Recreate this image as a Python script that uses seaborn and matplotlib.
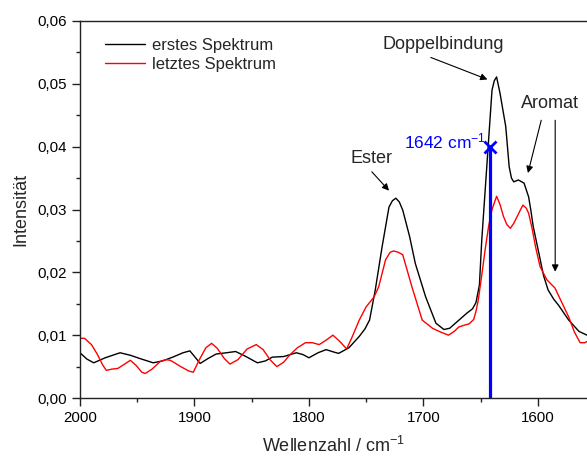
import numpy as np
import pandas as pd
import matplotlib
matplotlib.use("Agg")
import matplotlib.pyplot as plt
from matplotlib.ticker import FuncFormatter, MultipleLocator
from matplotlib.lines import Line2D
import seaborn as sns

# ---- data -------------------------------------------------------------
wn_first = [2000, 1994, 1988, 1978, 1965, 1956, 1948, 1936, 1928, 1919, 1910, 1904,
            1899, 1895, 1888, 1881, 1872, 1864, 1855, 1845, 1838, 1832, 1822, 1811,
            1805, 1800, 1792, 1785, 1778, 1774, 1765, 1756, 1751, 1747, 1742, 1736,
            1730, 1727, 1724, 1721, 1718, 1712, 1707, 1698, 1689, 1682, 1677, 1672,
            1667, 1662, 1657, 1654, 1651, 1649, 1646, 1643, 1640, 1638, 1636, 1633,
            1628, 1625, 1623, 1621, 1617, 1612, 1608, 1606, 1604, 1599, 1595,
            1591, 1586, 1582, 1573, 1564, 1557]
int_first = [0.0072, 0.0062, 0.0056, 0.0064, 0.0072, 0.0068, 0.0063, 0.0056, 0.0059,
             0.0065, 0.0072, 0.0075, 0.0064, 0.0055, 0.0063, 0.0070, 0.0072, 0.0074,
             0.0066, 0.0056, 0.0059, 0.0065, 0.0066, 0.0072, 0.0069, 0.0064, 0.0072,
             0.0077, 0.0073, 0.0071, 0.0080, 0.0098, 0.0110, 0.0124, 0.0172, 0.0241,
             0.0304, 0.0314, 0.0318, 0.0312, 0.0299, 0.0257, 0.0214, 0.0161, 0.0119,
             0.0109, 0.0111, 0.0119, 0.0127, 0.0135, 0.0142, 0.0152, 0.0180, 0.0250,
             0.0330, 0.0410, 0.0490, 0.0505, 0.0511, 0.0485, 0.0432, 0.0368, 0.0350,
             0.0344, 0.0347, 0.0342, 0.0320, 0.0298, 0.0273, 0.0230, 0.0195,
             0.0172, 0.0157, 0.0148, 0.0124, 0.0106, 0.0100]

wn_last = [2000, 1996, 1990, 1985, 1980, 1977, 1972, 1967, 1961, 1956, 1951, 1946,
           1943, 1937, 1930, 1925, 1921, 1912, 1905, 1901, 1896, 1890, 1885, 1880,
           1874, 1869, 1862, 1854, 1846, 1840, 1834, 1828, 1822, 1817, 1810, 1803,
           1797, 1791, 1785, 1779, 1773, 1767, 1762, 1756, 1750, 1743, 1739, 1733,
           1729, 1726, 1722, 1718, 1710, 1701, 1692, 1685, 1678, 1673, 1669, 1664,
           1660, 1656, 1654, 1652, 1649, 1646, 1643, 1640, 1636, 1633, 1630,
           1627, 1624, 1621, 1618, 1615, 1613, 1610, 1608, 1605, 1602, 1598, 1592, 1585,
           1579, 1573, 1568, 1563, 1559, 1557]
int_last = [0.0095, 0.0095, 0.0085, 0.0070, 0.0052, 0.0044, 0.0046, 0.0047, 0.0054,
            0.0060, 0.0052, 0.0041, 0.0039, 0.0046, 0.0058, 0.0061, 0.0060, 0.0050,
            0.0043, 0.0041, 0.0060, 0.0080, 0.0087, 0.0079, 0.0063, 0.0054, 0.0061,
            0.0078, 0.0085, 0.0077, 0.0061, 0.0050, 0.0057, 0.0068, 0.0080, 0.0088,
            0.0088, 0.0085, 0.0092, 0.0100, 0.0090, 0.0078, 0.0098, 0.0124, 0.0145,
            0.0161, 0.0177, 0.0220, 0.0232, 0.0234, 0.0232, 0.0228, 0.0177, 0.0124,
            0.0111, 0.0105, 0.0100, 0.0106, 0.0113, 0.0116, 0.0118, 0.0125, 0.0138,
            0.0156, 0.0195, 0.0236, 0.0273, 0.0300, 0.0321, 0.0308, 0.0289,
            0.0276, 0.0270, 0.0278, 0.0289, 0.0300, 0.0307, 0.0302, 0.0294, 0.0270,
            0.0241, 0.0209, 0.0188, 0.0175, 0.0152, 0.0129, 0.0105, 0.0088, 0.0088,
            0.0090]

series_names = ["erstes Spektrum", "letztes Spektrum"]
series_colors = ["#000000", "#ff0000"]

marker_wn = 1642
marker_int = 0.040
marker_label = "1642 cm$^{-1}$"

# ---- style ------------------------------------------------------------
sns.set_style("ticks")
plt.rcParams["font.family"] = ["Liberation Sans", "DejaVu Sans"]
plt.rcParams["mathtext.fontset"] = "custom"
plt.rcParams["mathtext.rm"] = "Liberation Sans"
plt.rcParams["mathtext.it"] = "Liberation Sans"
plt.rcParams["mathtext.default"] = "regular"

df = pd.concat([
    pd.DataFrame({"wn": wn_first, "I": int_first, "s": series_names[0]}),
    pd.DataFrame({"wn": wn_last, "I": int_last, "s": series_names[1]}),
])

fig = plt.figure(figsize=(5.87, 4.59), dpi=100)
ax = fig.add_axes([80 / 587, 1 - 398 / 459, 1 - 80 / 587, (398 - 21) / 459])

sns.lineplot(data=df, x="wn", y="I", hue="s", palette=series_colors,
             hue_order=series_names, linewidth=1.0, ax=ax, legend=False,
             estimator=None, sort=True)

ax.set_xlim(2000, 1557)
ax.set_ylim(0, 0.06)

# blue marker line
ax.vlines(marker_wn, 0, marker_int, color="#0000ff", linewidth=2.3, zorder=4)
ax.plot([marker_wn], [marker_int], marker="x", color="#0000ff", markersize=8,
        markeredgewidth=2, zorder=5)
ax.text(marker_wn + 3, marker_int + 0.0008, marker_label, color="#0000ff",
        fontsize=12.5, ha="right", va="center")

# legend
handles = [Line2D([], [], color=c, linewidth=1.0) for c in series_colors]
ax.legend(handles, series_names, loc="upper left", frameon=False, fontsize=12,
          handlelength=2.4, handletextpad=0.4, labelspacing=0.25,
          bbox_to_anchor=(0.02, 0.995))

# annotations
arrow = dict(arrowstyle="-|>", color="black", lw=0.8, mutation_scale=10,
             shrinkA=0, shrinkB=0)
ax.annotate("", xy=(1644, 0.0507), xytext=(1693.5, 0.0542), arrowprops=arrow)
ax.text(1683, 0.0563, "Doppelbindung", fontsize=13, ha="center", va="center")
ax.annotate("", xy=(1730, 0.0330), xytext=(1745, 0.0360), arrowprops=arrow)
ax.text(1745, 0.0381, "Ester", fontsize=13, ha="center", va="center")
ax.annotate("", xy=(1608.6, 0.0358), xytext=(1597, 0.0442), arrowprops=arrow)
ax.annotate("", xy=(1584.8, 0.0201), xytext=(1584.8, 0.0442), arrowprops=arrow)
ax.text(1589, 0.0468, "Aromat", fontsize=13, ha="center", va="center")

# axes styling
for side in ["left", "bottom", "top"]:
    ax.spines[side].set_linewidth(1.0)
    ax.spines[side].set_color("#222222")
ax.spines["right"].set_visible(False)
ax.xaxis.set_major_locator(MultipleLocator(100))
ax.xaxis.set_minor_locator(MultipleLocator(50))
ax.yaxis.set_major_locator(MultipleLocator(0.01))
ax.yaxis.set_minor_locator(MultipleLocator(0.005))
ax.tick_params(which="major", direction="out", length=5.8, width=1.0,
               labelsize=10.8, colors="#222222", labelcolor="black")
ax.tick_params(which="minor", direction="out", length=3.0, width=1.0,
               colors="#222222")
ax.yaxis.set_major_formatter(FuncFormatter(lambda v, p: f"{v:.2f}".replace(".", ",")))
ax.xaxis.set_major_formatter(FuncFormatter(lambda v, p: f"{v:.0f}"))
ax.set_xlabel("Wellenzahl / cm$^{-1}$", fontsize=13, labelpad=8)
ax.set_ylabel("Intensität", fontsize=13, labelpad=6)

fig.savefig("out.png", dpi=100)
